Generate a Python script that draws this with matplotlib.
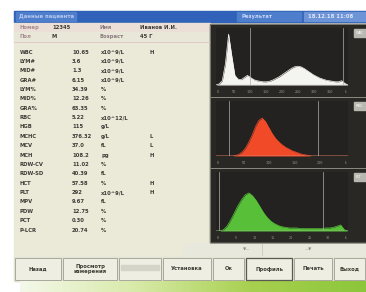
import numpy as np
import matplotlib.pyplot as plt
from matplotlib.patches import Rectangle

W, H = 366, 292

# --- данные экрана анализатора ---
param_names = ["WBC", "LYM#", "MID#", "GRA#", "LYM%", "MID%", "GRA%", "RBC", "HGB",
               "MCHC", "MCV", "MCH", "RDW-CV", "RDW-SD", "HCT", "PLT", "MPV", "PDW",
               "PCT", "P-LCR"]
param_values = ["10.65", "3.6", "1.3", "6.15", "34.39", "12.26", "63.35", "5.22", "115",
                "376.32", "37.0", "108.2", "11.02", "40.39", "57.58", "292", "9.67",
                "12.75", "0.30", "20.74"]
param_units = ["x10^9/L", "x10^9/L", "x10^9/L", "x10^9/L", "%", "%", "%", "x10^12/L", "g/L",
               "g/L", "fL", "pg", "%", "fL", "%", "x10^9/L", "fL", "%", "%", "%"]
param_flags = ["H", "", "", "", "", "", "", "", "", "L", "L", "H", "", "", "H", "H",
               "", "", "", ""]

wbc_hist = [0, 2, 8, 40, 95, 55, 18, 11, 10, 14, 18, 14, 10, 8, 7, 6, 6, 7, 9, 12, 15, 19,
            23, 27, 31, 34, 35, 34, 31, 27, 23, 19, 16, 13, 11, 9, 8, 7, 6, 6, 8, 3, 0]
rbc_hist = [0, 0, 0, 0, 0, 0, 1, 3, 7, 14, 24, 36, 50, 60, 64, 58, 48, 38, 30, 24, 19,
            15, 12, 9, 7, 5, 3, 2, 1, 0, 0, 0, 0, 0, 0, 0, 0, 0, 0, 0, 0]
plt_hist = [0, 0, 2, 8, 18, 30, 42, 52, 60, 63, 58, 50, 40, 30, 22, 16, 12, 9, 7, 6, 5,
            5, 5, 4, 4, 4, 4, 4, 4, 4, 5, 5, 6, 8, 10, 2, 0]
hist_ticks = [["0", "50", "100", "150", "200", "250", "300", "350", "fL"],
              ["0", "50", "100", "150", "200", "fL"],
              ["0", "5", "10", "15", "20", "25", "30", "fL"]]

buttons = ["Назад", "Просмотр\nизмерения", "", "Установка", "Ок", "Профиль", "Печать", "Выход"]
button_x = [14, 62, 118, 162, 212, 245, 293, 333, 366]

fig = plt.figure(figsize=(W / 100, H / 100), dpi=100)
fig.patch.set_facecolor("white")
bg = fig.add_axes([0, 0, 1, 1])
bg.set_xlim(0, W)
bg.set_ylim(H, 0)
bg.axis("off")

txt = "#3c3c36"
fs = 3.8

# фон экрана
bg.add_patch(Rectangle((14, 11), W - 14, 270, color="#ebe9d8", zorder=0))

# заголовок
bg.add_patch(Rectangle((14, 11), W - 14, 11, color="#2f62b8", zorder=1))
bg.add_patch(Rectangle((16, 12), 60, 9, color="#4f7fcc", zorder=2))
bg.text(19, 16.5, "Данные пациента", color="#b8c8ee", fontsize=fs, va="center",
        weight="bold", zorder=3)
bg.add_patch(Rectangle((237, 12), 64, 9, color="#4f7fcc", zorder=2))
bg.text(242, 16.5, "Результат", color="#c8d4f4", fontsize=fs, va="center",
        weight="bold", zorder=3)
bg.add_patch(Rectangle((304, 12), 62, 9, color="#6d94d6", zorder=2))
bg.text(308, 16.5, "18.12.18 11:08", color="#e2e8f8", fontsize=fs, va="center",
        weight="bold", zorder=3)

# строки с данными пациента
bg.add_patch(Rectangle((14, 23), 196, 9, color="#ecdfd8", zorder=1))
bg.add_patch(Rectangle((14, 32), 196, 9, color="#e8e7d8", zorder=1))
bg.plot([14, 210], [41.5, 41.5], color="#e0c4c4", lw=0.6, zorder=2)
for y, a, b, c, d in [(27.5, "Номер", "12345", "Имя", "Иванов И.И."),
                      (36.5, "Пол", "М", "Возраст", "45 Г")]:
    bg.text(19, y, a, color="#a88a90", fontsize=fs, va="center", weight="bold", zorder=3)
    bg.text(52, y, b, color=txt, fontsize=fs, va="center", weight="bold", zorder=3)
    bg.text(100, y, c, color="#8a7a80", fontsize=fs, va="center", weight="bold", zorder=3)
    bg.text(140, y, d, color=txt, fontsize=fs, va="center", weight="bold", zorder=3)

# таблица параметров
for i, name in enumerate(param_names):
    y = 52 + i * 9.37
    for xx, s in [(20, name), (72, param_values[i]), (101, param_units[i]),
                  (150, param_flags[i])]:
        bg.text(xx, y, s, color=txt, fontsize=fs, va="center", weight="bold", zorder=3)

# гистограммы
panels = [(24, 97), (97, 168), (168, 243)]
hists = [wbc_hist, rbc_hist, plt_hist]
colors = ["#f4f4f0", "#f04a28", "#58c038"]
disc = [[0.26, 0.96], [0.10, 0.77], [0.02, 0.81]]
top = [1.12, 1.45, 1.55]
labels = ["WBC", "RBC", "PLT"]
for k, (y0, y1) in enumerate(panels):
    bg.add_patch(Rectangle((210, y0), W - 210, y1 - y0, color="#2a2824", zorder=1))
    bg.add_patch(Rectangle((210, y0), W - 210, y1 - y0, fill=False, ec="#8a8a80",
                           lw=0.6, zorder=2))
    bg.add_patch(Rectangle((354, y0 + 5), 12, 8, color="#b8b8b0", zorder=2))
    bg.text(356, y0 + 9, labels[k], color="#ffffff", fontsize=2.6, va="center", zorder=3)
    ax = fig.add_axes([216 / W, 1 - (y1 - 12) / H, 132 / W, (y1 - y0 - 16) / H])
    ax.set_facecolor("#232220")
    data = hists[k]
    x = np.arange(len(data))
    ax.fill_between(x, data, color=colors[k], lw=0)
    ax.plot(x, data, color=colors[k], lw=0.5)
    ax.set_xlim(0, len(data) - 1)
    ax.set_ylim(0, max(data) * top[k])
    for d in disc[k]:
        ax.axvline(d * (len(data) - 1), color="#b0b0a8", lw=0.5)
    ax.axhline(0, color="#c8c8c0", lw=1.0)
    ax.set_xticks([])
    ax.set_yticks([])
    for s in ax.spines.values():
        s.set_visible(False)
    tl = hist_ticks[k]
    for j, t in enumerate(tl):
        bg.text(218 + j * 128 / (len(tl) - 1), y1 - 5, t, color="#9a9a90", fontsize=2.4,
                ha="center", va="center", zorder=3)

# строка ползунков
bg.add_patch(Rectangle((183, 243), W - 183, 13, color="#e8e8dc", zorder=1))
bg.plot([262, 262], [244, 255], color="#c8c8bc", lw=0.6, zorder=2)
bg.text(243, 249.5, "▼—", color="#8a8a80", fontsize=3, va="center", zorder=3)
bg.text(305, 249.5, "—▼", color="#8a8a80", fontsize=3, va="center", zorder=3)

# кнопки
bg.add_patch(Rectangle((14, 257), W - 14, 24, color="#e4e3d4", zorder=1))
for i, b in enumerate(buttons):
    x0, x1 = button_x[i], button_x[i + 1]
    bg.add_patch(Rectangle((x0 + 1, 258), x1 - x0 - 2, 22, fc="#eeeee2", ec="#a8a89c",
                           lw=0.7, zorder=2))
    bg.text((x0 + x1) / 2, 269, b, color=txt, fontsize=fs, ha="center", va="center",
            linespacing=1.0, weight="bold", zorder=3)
bg.add_patch(Rectangle((246, 258), 46, 22, fill=False, ec="#5a5a54", lw=0.9, zorder=3))
bg.add_patch(Rectangle((121, 265), 38, 5, color="#d4d4c8", zorder=3))

# зелёная полоса внизу
grad = np.linspace(0, 1, 256)[None, :]
cmap = plt.matplotlib.colors.LinearSegmentedColormap.from_list(
    "g", ["#f4f8ea", "#d8eaa8", "#a8d050", "#8cc63a"])
bg.imshow(grad, extent=(20, W, 292, 281), aspect="auto", cmap=cmap, zorder=1)
bg.set_xlim(0, W)
bg.set_ylim(H, 0)

fig.savefig("out.png", dpi=100)
